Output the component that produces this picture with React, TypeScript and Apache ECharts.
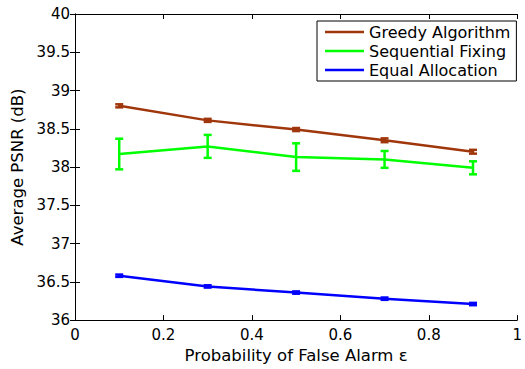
import React, { useEffect, useRef } from "react";
import * as echarts from "echarts";

const xValues = [0.1, 0.3, 0.5, 0.7, 0.9];
const greedy = [38.8, 38.61, 38.49, 38.35, 38.2];
const greedyErr = [0.02, 0.02, 0.02, 0.025, 0.025];
const sequential = [38.17, 38.27, 38.13, 38.1, 37.99];
const sequentialErr = [0.2, 0.15, 0.18, 0.11, 0.085];
const equal = [36.58, 36.44, 36.36, 36.28, 36.21];
const equalErr = [0.015, 0.015, 0.015, 0.015, 0.015];

const names = ["Greedy Algorithm", "Sequential Fixing", "Equal Allocation"];
const colors = ["#A0370C", "#00FF00", "#0000FF"];

const FONT = "DejaVu Sans";

function lineData(ys: number[]) {
  return xValues.map((x, i) => [x, ys[i]]);
}
function errData(ys: number[], es: number[]) {
  return xValues.map((x, i) => [x, ys[i] - es[i], ys[i] + es[i]]);
}

function errSeries(ys: number[], es: number[], color: string) {
  return {
    type: "custom",
    xAxisIndex: 0,
    yAxisIndex: 0,
    data: errData(ys, es),
    z: 5,
    renderItem: (params: any, api: any) => {
      const x = api.value(0);
      const lo = api.coord([x, api.value(1)]);
      const hi = api.coord([x, api.value(2)]);
      const cw = 4;
      const style = { stroke: color, lineWidth: 2.5 };
      return {
        type: "group",
        children: [
          { type: "line", shape: { x1: lo[0], y1: lo[1], x2: hi[0], y2: hi[1] }, style },
          { type: "line", shape: { x1: lo[0] - cw, y1: lo[1], x2: lo[0] + cw, y2: lo[1] }, style },
          { type: "line", shape: { x1: hi[0] - cw, y1: hi[1], x2: hi[0] + cw, y2: hi[1] }, style },
        ],
      };
    },
  };
}

export default function App() {
  const ref = useRef<HTMLDivElement>(null);
  useEffect(() => {
    if (!ref.current) return;
    const chart = echarts.init(ref.current, undefined, { renderer: "svg" });
    const axisCommon = {
      axisLine: { show: true, lineStyle: { color: "#000", width: 1 } },
      axisTick: { show: true, inside: true, length: 5, lineStyle: { color: "#000" } },
      splitLine: { show: false },
    };
    const lineSeries = (i: number, ys: number[]) => ({
      name: names[i],
      type: "line",
      data: lineData(ys),
      showSymbol: false,
      symbol: "none",
      lineStyle: { color: colors[i], width: 2.5 },
      itemStyle: { color: colors[i] },
      z: 4,
    });
    chart.setOption({
      animation: false,
      backgroundColor: "#fff",
      textStyle: { fontFamily: FONT },
      grid: { left: 75, top: 14, width: 447, height: 312 },
      xAxis: [
        {
          type: "value",
          position: "bottom",
          min: 0,
          max: 1,
          interval: 0.2,
          ...axisCommon,
          axisLabel: { color: "#000", fontSize: 15, fontFamily: FONT, margin: 7 },
          name: "Probability of False Alarm ε",
          nameLocation: "middle",
          nameGap: 22,
          nameTextStyle: { color: "#000", fontSize: 16.5, fontFamily: FONT },
        },
        {
          type: "value",
          position: "top",
          min: 0,
          max: 1,
          interval: 0.2,
          ...axisCommon,
          axisLabel: { show: false },
        },
      ],
      yAxis: [
        {
          type: "value",
          position: "left",
          min: 36,
          max: 40,
          interval: 0.5,
          ...axisCommon,
          axisLabel: { color: "#000", fontSize: 15, fontFamily: FONT, margin: 5 },
          name: "Average PSNR (dB)",
          nameLocation: "middle",
          nameGap: 46,
          nameTextStyle: { color: "#000", fontSize: 16.5, fontFamily: FONT },
        },
        {
          type: "value",
          position: "right",
          min: 36,
          max: 40,
          interval: 0.5,
          ...axisCommon,
          axisLabel: { show: false },
        },
      ],
      legend: {
        data: names,
        orient: "vertical",
        left: 317,
        top: 21,
        icon: "rect",
        itemWidth: 39,
        itemHeight: 2.5,
        itemGap: 3,
        padding: [3, 6, 3, 8],
        borderColor: "#000",
        borderWidth: 1,
        backgroundColor: "#fff",
        textStyle: { color: "#000", fontSize: 16, fontFamily: FONT, lineHeight: 16 },
      },
      series: [
        lineSeries(0, greedy),
        lineSeries(1, sequential),
        lineSeries(2, equal),
        errSeries(greedy, greedyErr, colors[0]),
        errSeries(sequential, sequentialErr, colors[1]),
        errSeries(equal, equalErr, colors[2]),
      ],
    });
    return () => chart.dispose();
  }, []);
  return <div ref={ref} style={{ width: 525, height: 369, position: "absolute", left: 0, top: 0 }} />;
}
